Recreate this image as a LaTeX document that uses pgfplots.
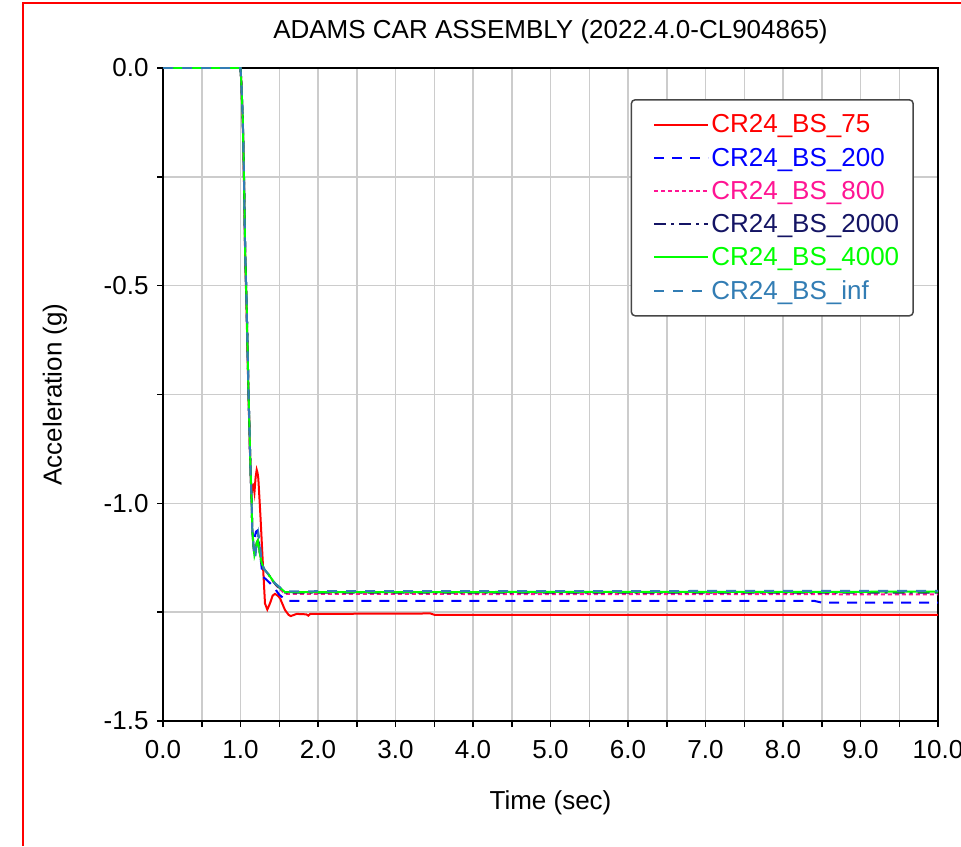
\documentclass[border=0pt]{standalone}
\usepackage{fontspec}
\setmainfont{Liberation Sans}
\usepackage{pgfplots}
\pgfplotsset{compat=1.18}

\definecolor{cRed}{RGB}{255,0,0}
\definecolor{cBlue}{RGB}{0,0,255}
\definecolor{cPink}{RGB}{255,20,147}
\definecolor{cNavy}{RGB}{20,20,100}
\definecolor{cGreen}{RGB}{0,255,0}
\definecolor{cSteel}{RGB}{50,125,180}
\definecolor{cFrame}{RGB}{70,70,70}

\newcommand{\bigfont}{\fontsize{26}{30}\selectfont}

\begin{document}
\begin{tikzpicture}[x=1pt,y=1pt]
\begin{axis}[
  at={(163pt,125pt)}, anchor=south west,
  scale only axis, width=775pt, height=653pt,
  xmin=0, xmax=10, ymin=-1.5, ymax=0,
  xtick={0,1,...,10}, minor xtick={0.5,1.5,...,9.5},
  ytick={-1.5,-1,-0.5,0}, minor ytick={-1.25,-0.75,-0.25},
  grid=both,
  major grid style={color=black!20, line width=1.5pt},
  minor grid style={color=black!20, line width=1.5pt},
  tick align=outside, tick pos=left,
  major tick length=6pt, minor tick length=6pt,
  every tick/.style={black, line width=1.5pt},
  axis line style={black, line width=1.5pt},
  /pgf/number format/.cd, fixed, fixed zerofill, precision=1, assume math mode=true,
  /pgfplots/.cd,
  tick label style={font=\bigfont},
  xticklabel style={yshift=-10pt},
  yticklabel style={xshift=-5pt},
  title={ADAMS CAR ASSEMBLY (2022.4.0-CL904865)},
  title style={font=\bigfont, at={(axis description cs:0.5,1.0459)}, anchor=center},
  xlabel={Time (sec)},
  xlabel style={font=\bigfont, at={(axis description cs:0.5,-0.1256)}, anchor=center},
  ylabel={Acceleration (g)},
  ylabel style={font=\bigfont, at={(axis description cs:-0.1394,0.5)}, anchor=center},
  legend style={at={(axis description cs:0.969,0.9525)}, anchor=north east,
    draw=cFrame, line width=1.5pt, rounded corners=4pt, font=\bigfont,
    inner xsep=12pt, inner ysep=13pt, row sep=9.5pt},
  legend cell align=left,
  legend image code/.code={\path (-10pt,0pt); \draw[#1] (0pt,0pt) -- (54pt,0pt);},
]
% CR24_BS_75
\addplot[cRed, line width=2pt] coordinates {
 (0,0) (1.0,0) (1.01,-0.03) (1.03,-0.13) (1.045,-0.26) (1.06,-0.43) (1.08,-0.57)
 (1.1,-0.73) (1.12,-0.87) (1.135,-0.95) (1.144,-0.977) (1.155,-0.96) (1.166,-0.958)
 (1.18,-0.975) (1.195,-0.94) (1.209,-0.923) (1.22,-0.93) (1.23,-0.943) (1.245,-0.99)
 (1.26,-1.038) (1.286,-1.13) (1.316,-1.23) (1.346,-1.244) (1.38,-1.23) (1.415,-1.212)
 (1.445,-1.208) (1.48,-1.212) (1.51,-1.218) (1.574,-1.245) (1.62,-1.256) (1.648,-1.259)
 (1.725,-1.254) (1.85,-1.255) (1.875,-1.258) (1.9,-1.254) (3.45,-1.253) (3.5,-1.256)
 (10,-1.256)};
% CR24_BS_200
\addplot[cBlue, line width=2pt, dash pattern=on 10pt off 8pt] coordinates {
 (0,0) (1.0,0) (1.01,-0.03) (1.03,-0.12) (1.045,-0.25) (1.06,-0.42) (1.08,-0.55)
 (1.1,-0.72) (1.12,-0.86) (1.131,-0.93) (1.144,-1.0) (1.152,-1.06) (1.165,-1.09)
 (1.18,-1.08) (1.2,-1.065) (1.215,-1.063) (1.235,-1.08) (1.255,-1.12) (1.286,-1.168)
 (1.338,-1.176) (1.42,-1.19) (1.5,-1.21) (1.6,-1.224) (8.4,-1.224) (8.5,-1.228)
 (10,-1.228)};
% CR24_BS_800
\addplot[cPink, line width=2pt, dash pattern=on 4pt off 3pt] coordinates {
 (0,0) (1.0,0) (1.01,-0.03) (1.03,-0.12) (1.045,-0.25) (1.06,-0.42) (1.08,-0.55)
 (1.1,-0.72) (1.12,-0.86) (1.131,-0.93) (1.144,-1.0) (1.152,-1.061) (1.165,-1.095)
 (1.18,-1.12) (1.195,-1.11) (1.21,-1.09) (1.225,-1.085) (1.245,-1.11) (1.27,-1.135)
 (1.3,-1.15) (1.36,-1.163) (1.445,-1.186) (1.574,-1.208) (10,-1.209)};
% CR24_BS_2000
\addplot[cNavy, line width=2pt, dash pattern=on 12pt off 5pt on 3pt off 5pt] coordinates {
 (0,0) (1.0,0) (1.01,-0.03) (1.03,-0.12) (1.045,-0.25) (1.06,-0.42) (1.08,-0.55)
 (1.1,-0.72) (1.12,-0.86) (1.131,-0.93) (1.144,-1.0) (1.152,-1.061) (1.165,-1.095)
 (1.18,-1.12) (1.195,-1.11) (1.21,-1.09) (1.225,-1.085) (1.245,-1.11) (1.27,-1.135)
 (1.3,-1.15) (1.36,-1.163) (1.445,-1.185) (1.574,-1.205) (10,-1.205)};
% CR24_BS_4000
\addplot[cGreen, line width=2pt] coordinates {
 (0,0) (1.0,0) (1.01,-0.03) (1.03,-0.12) (1.045,-0.25) (1.06,-0.42) (1.08,-0.55)
 (1.1,-0.72) (1.12,-0.86) (1.131,-0.93) (1.144,-1.0) (1.152,-1.061) (1.165,-1.095)
 (1.18,-1.12) (1.195,-1.11) (1.21,-1.09) (1.225,-1.085) (1.245,-1.11) (1.27,-1.135)
 (1.3,-1.15) (1.36,-1.163) (1.445,-1.184) (1.574,-1.204) (10,-1.203)};
% CR24_BS_inf
\addplot[cSteel, line width=2pt, dash pattern=on 10pt off 9pt] coordinates {
 (0,0) (1.0,0) (1.01,-0.03) (1.03,-0.12) (1.045,-0.25) (1.06,-0.42) (1.08,-0.55)
 (1.1,-0.72) (1.12,-0.86) (1.131,-0.93) (1.144,-1.0) (1.152,-1.06) (1.17,-1.10)
 (1.19,-1.126) (1.21,-1.09) (1.23,-1.068) (1.25,-1.09) (1.27,-1.13) (1.3,-1.15)
 (1.36,-1.163) (1.445,-1.184) (1.574,-1.202) (10,-1.201)};
\legend{\textcolor{cRed}{CR24\_BS\_75}, \textcolor{cBlue}{CR24\_BS\_200},
  \textcolor{cPink}{CR24\_BS\_800}, \textcolor{cNavy}{CR24\_BS\_2000},
  \textcolor{cGreen}{CR24\_BS\_4000}, \textcolor{cSteel}{CR24\_BS\_inf}}
\end{axis}
% page frame
\draw[cRed, line width=1.5pt] (23,0) -- (23,843) -- (961,843);
\pgfresetboundingbox
\path[use as bounding box] (0,0) rectangle (961,846);
\end{tikzpicture}
\end{document}
